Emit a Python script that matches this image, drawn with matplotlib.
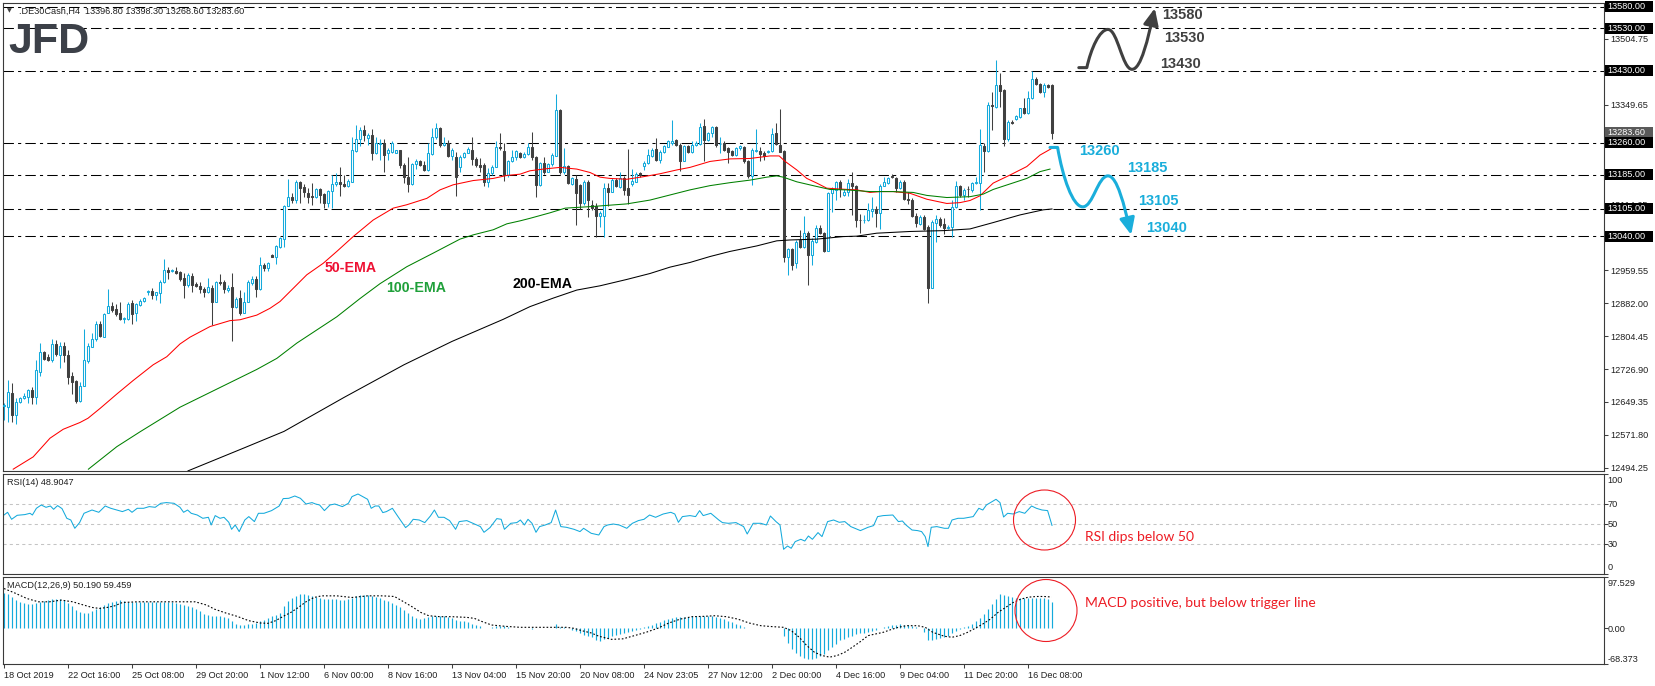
import matplotlib
matplotlib.use("Agg")
import matplotlib.pyplot as plt
import matplotlib.transforms as mtransforms
from matplotlib.patches import Rectangle, Ellipse, FancyArrowPatch
from matplotlib.path import Path

plt.rcParams['font.family'] = ['Liberation Sans', 'DejaVu Sans']

# ---------------- data (H4 bars, DE30) ----------------
opens = [
    12640, 12638, 12670, 12619, 12650, 12658, 12660, 12678, 12662, 12721,
    12766, 12756, 12748, 12785, 12760, 12782, 12760, 12710, 12699, 12652,
    12688, 12746, 12780, 12797, 12832, 12803, 12858, 12876, 12868, 12858,
    12845, 12844, 12883, 12858, 12878, 12888, 12908, 12911, 12902, 12907,
    12933, 12960, 12958, 12958, 12955, 12941, 12925, 12946, 12927, 12923,
    12916, 12909, 12919, 12886, 12933, 12931, 12912, 12920, 12872, 12894,
    12860, 12886, 12930, 12938, 12915, 12972, 12964, 12996, 12992, 13015,
    13033, 13111, 13133, 13125, 13167, 13155, 13141, 13135, 13133, 13150,
    13139, 13119, 13147, 13162, 13168, 13163, 13157, 13168, 13241, 13268,
    13290, 13271, 13278, 13237, 13258, 13260, 13235, 13239, 13237, 13242,
    13208, 13179, 13162, 13210, 13217, 13208, 13197, 13234, 13273, 13294,
    13255, 13259, 13229, 13227, 13202, 13226, 13237, 13243, 13222, 13208,
    13208, 13168, 13188, 13202, 13250, 13241, 13184, 13216, 13226, 13237,
    13226, 13234, 13251, 13226, 13161, 13212, 13192, 13209, 13230, 13337,
    13190, 13205, 13164, 13175, 13161, 13117, 13168, 13114, 13110, 13088,
    13088, 13153, 13145, 13172, 13155, 13176, 13153, 13162, 13168, 13188,
    13205, 13212, 13229, 13245, 13219, 13238, 13251, 13259, 13267, 13255,
    13217, 13252, 13239, 13255, 13258, 13300, 13267, 13284, 13296, 13257,
    13259, 13247, 13241, 13231, 13247, 13249, 13218, 13182, 13241, 13241,
    13237, 13238, 13241, 13282, 13255, 13241, 12992, 13009, 12976, 13031,
    13014, 13047, 12996, 13027, 13060, 13047, 13006, 13141, 13149, 13167,
    13137, 13145, 13165, 13157, 13079, 13078, 13078, 13100, 13103, 13095,
    13158, 13166, 13182, 13176, 13153, 13168, 13127, 13125, 13088, 13069,
    13086, 13062, 12919, 13072, 13080, 13069, 13060, 13062, 13109, 13157,
    13137, 13151, 13149, 13165, 13166, 13252, 13241, 13349, 13345, 13396,
    13384, 13270, 13310, 13315, 13320, 13341, 13329, 13365, 13410, 13399,
    13380, 13396, 13396.8]

highs = [
    12648, 12701, 12693, 12658, 12662, 12670, 12679, 12685, 12748, 12788,
    12770, 12762, 12797, 12795, 12791, 12791, 12772, 12721, 12701, 12697,
    12821, 12789, 12811, 12839, 12839, 12858, 12915, 12885, 12880, 12886,
    12849, 12886, 12890, 12883, 12891, 12896, 12912, 12919, 12909, 12937,
    12986, 12967, 12962, 12968, 12957, 12953, 12953, 12953, 12932, 12933,
    12920, 12941, 12925, 12935, 12951, 12937, 12925, 12953, 12897, 12913,
    12909, 12937, 12945, 12945, 12992, 12976, 12979, 12997, 13019, 13037,
    13114, 13175, 13141, 13172, 13170, 13163, 13153, 13165, 13153, 13154,
    13141, 13149, 13184, 13188, 13204, 13184, 13174, 13274, 13302, 13298,
    13302, 13282, 13292, 13274, 13270, 13270, 13247, 13263, 13244, 13243,
    13212, 13227, 13212, 13221, 13219, 13216, 13259, 13294, 13306, 13298,
    13274, 13267, 13247, 13239, 13231, 13239, 13251, 13274, 13227, 13223,
    13212, 13200, 13208, 13263, 13282, 13259, 13219, 13243, 13243, 13239,
    13239, 13259, 13286, 13229, 13215, 13227, 13213, 13235, 13375, 13339,
    13247, 13208, 13180, 13184, 13164, 13172, 13172, 13124, 13118, 13099,
    13165, 13165, 13176, 13176, 13192, 13182, 13245, 13198, 13190, 13190,
    13216, 13245, 13247, 13271, 13243, 13255, 13267, 13314, 13268, 13259,
    13254, 13255, 13263, 13263, 13306, 13315, 13286, 13300, 13300, 13274,
    13263, 13251, 13244, 13249, 13255, 13252, 13220, 13247, 13292, 13249,
    13241, 13243, 13294, 13306, 13339, 13243, 13011, 13011, 13032, 13055,
    13088, 13051, 13035, 13066, 13066, 13049, 13145, 13155, 13171, 13172,
    13150, 13174, 13192, 13161, 13092, 13090, 13117, 13133, 13110, 13163,
    13179, 13180, 13187, 13179, 13172, 13172, 13145, 13129, 13094, 13090,
    13090, 13066, 13078, 13090, 13084, 13082, 13066, 13125, 13171, 13161,
    13153, 13157, 13168, 13180, 13292, 13259, 13357, 13380, 13455, 13424,
    13386, 13314, 13314, 13326, 13343, 13365, 13381, 13428, 13414, 13400,
    13400, 13398, 13398.3]

lows = [
    12607, 12603, 12601, 12597, 12648, 12657, 12646, 12645, 12644, 12711,
    12748, 12747, 12744, 12758, 12729, 12744, 12692, 12668, 12648, 12650,
    12688, 12742, 12778, 12793, 12803, 12802, 12858, 12862, 12852, 12843,
    12836, 12843, 12832, 12839, 12876, 12886, 12901, 12891, 12890, 12883,
    12929, 12939, 12955, 12950, 12935, 12895, 12921, 12909, 12920, 12905,
    12897, 12905, 12831, 12884, 12925, 12905, 12909, 12792, 12870, 12854,
    12858, 12886, 12925, 12897, 12913, 12959, 12959, 12991, 12974, 13013,
    13015, 13110, 13117, 13117, 13117, 13133, 13117, 13113, 13131, 13117,
    13106, 13108, 13106, 13157, 13135, 13155, 13155, 13168, 13239, 13252,
    13265, 13255, 13220, 13234, 13220, 13192, 13220, 13237, 13235, 13200,
    13165, 13145, 13160, 13198, 13205, 13194, 13194, 13231, 13270, 13251,
    13253, 13227, 13219, 13135, 13192, 13224, 13235, 13208, 13204, 13192,
    13157, 13155, 13184, 13202, 13243, 13170, 13180, 13214, 13220, 13225,
    13223, 13231, 13220, 13133, 13158, 13187, 13190, 13206, 13229, 13187,
    13187, 13164, 13160, 13066, 13103, 13113, 13086, 13102, 13037, 13062,
    13039, 13110, 13143, 13155, 13153, 13137, 13116, 13158, 13167, 13180,
    13197, 13210, 13226, 13218, 13212, 13237, 13249, 13255, 13252, 13194,
    13216, 13237, 13235, 13252, 13255, 13216, 13265, 13274, 13251, 13237,
    13241, 13212, 13229, 13229, 13243, 13212, 13176, 13161, 13239, 13218,
    13220, 13237, 13239, 13255, 13238, 12978, 12948, 12960, 12964, 13011,
    13011, 12925, 12972, 13025, 13045, 13002, 13004, 13098, 13125, 13133,
    13135, 13135, 13090, 13061, 13048, 13070, 13076, 13086, 13061, 13058,
    13157, 13164, 13177, 13145, 13150, 13125, 13116, 13086, 13062, 13066,
    13055, 12882, 12917, 13027, 13062, 13045, 13058, 13037, 13106, 13133,
    13124, 13133, 13145, 13163, 13102, 13190, 13239, 13290, 13341, 13345,
    13252, 13263, 13304, 13314, 13318, 13328, 13328, 13362, 13397, 13378,
    13369, 13388, 13268.6]

closes = [
    12643, 12672, 12619, 12650, 12658, 12663, 12678, 12662, 12725, 12766,
    12751, 12749, 12785, 12762, 12782, 12760, 12709, 12697, 12652, 12688,
    12748, 12781, 12797, 12832, 12805, 12856, 12876, 12866, 12857, 12845,
    12848, 12880, 12857, 12880, 12888, 12894, 12911, 12901, 12908, 12933,
    12960, 12956, 12960, 12953, 12939, 12925, 12949, 12925, 12923, 12915,
    12909, 12920, 12886, 12931, 12929, 12915, 12917, 12872, 12892, 12858,
    12886, 12933, 12938, 12915, 12972, 12964, 12976, 12992, 13017, 13035,
    13111, 13133, 13125, 13167, 13153, 13143, 13133, 13132, 13150, 13137,
    13119, 13147, 13162, 13168, 13162, 13157, 13170, 13243, 13270, 13290,
    13278, 13278, 13237, 13259, 13259, 13231, 13242, 13260, 13242, 13208,
    13179, 13162, 13210, 13217, 13208, 13197, 13235, 13274, 13294, 13255,
    13260, 13229, 13242, 13180, 13227, 13237, 13245, 13222, 13208, 13202,
    13168, 13188, 13204, 13249, 13247, 13184, 13216, 13227, 13241, 13227,
    13234, 13251, 13226, 13161, 13212, 13192, 13209, 13232, 13337, 13190,
    13205, 13166, 13176, 13141, 13117, 13168, 13124, 13106, 13088, 13095,
    13153, 13145, 13172, 13158, 13176, 13149, 13137, 13170, 13186, 13185,
    13213, 13231, 13243, 13219, 13239, 13252, 13263, 13265, 13255, 13217,
    13252, 13239, 13255, 13260, 13296, 13267, 13282, 13296, 13255, 13258,
    13243, 13239, 13231, 13247, 13252, 13218, 13182, 13243, 13243, 13234,
    13230, 13241, 13281, 13257, 13239, 12992, 13009, 12972, 13027, 13014,
    13047, 12996, 13029, 13060, 13047, 13004, 13141, 13150, 13167, 13150,
    13145, 13165, 13157, 13078, 13078, 13079, 13102, 13103, 13095, 13158,
    13168, 13176, 13179, 13153, 13168, 13127, 13124, 13088, 13070, 13086,
    13058, 12919, 13074, 13080, 13066, 13060, 13061, 13108, 13157, 13137,
    13149, 13150, 13166, 13168, 13255, 13241, 13349, 13347, 13396, 13383,
    13270, 13310, 13306, 13322, 13341, 13329, 13365, 13410, 13399, 13379,
    13396, 13392, 13283.6]

# moving averages, sampled along the drawn lines (bar position, price)
ema50_x = [2.3, 7.3, 11.5, 14.8, 19.0, 21.0, 24.0, 28.2, 32.3, 37.3,
           40.7, 44.0, 46.5, 51.5, 56.5, 59.0, 63.2, 66.5, 69.0, 72.3,
           75.7, 79.8, 83.2, 87.3, 92.3, 97.3, 100.7, 105.7, 109.0, 112.3,
           117.3, 122.3, 125.7, 129.0, 131.5, 134.8, 139.0, 143.2, 146.5, 149.0,
           151.5, 155.7, 159.8, 164.0, 168.2, 171.5, 176.5, 181.5, 186.5, 191.5,
           193.8, 195.3, 198.2, 200.7, 203.2, 205.7, 209.0, 213.2, 216.5, 219.0,
           222.3, 226.5, 230.7, 235.7, 239.0, 241.5, 244.0, 247.3, 251.5, 255.7,
           259.0, 262.0]
ema50_y = [12491, 12520, 12564, 12585, 12601, 12611, 12634, 12668, 12700, 12737,
           12756, 12786, 12802, 12827, 12841, 12843, 12854, 12870, 12886, 12917,
           12949, 12976, 13004, 13039, 13078, 13106, 13114, 13129, 13149, 13161,
           13171, 13176, 13183, 13186, 13194, 13198, 13202, 13198, 13190, 13179,
           13176, 13174, 13180, 13187, 13196, 13202, 13216, 13222, 13223, 13229,
           13229, 13216, 13196, 13176, 13165, 13153, 13151, 13149, 13143, 13145,
           13145, 13141, 13127, 13117, 13119, 13124, 13135, 13165, 13184, 13204,
           13231, 13247]

ema100_x = [21.1, 28.2, 34.0, 39.0, 44.0, 63.2, 68.2, 73.2, 78.2, 83.2,
            89.0, 94.0, 100.7, 107.3, 114.0, 117.3, 122.3, 125.7, 129.0, 131.5,
            136.5, 140.3, 147.3, 155.7, 161.5, 166.5, 171.5, 176.5, 181.5, 186.5,
            190.7, 193.2, 194.8, 198.2, 203.2, 206.5, 210.7, 216.5, 222.3, 227.3,
            230.7, 235.7, 241.5, 244.8, 247.3, 251.5, 255.7, 259.0, 261.5]
ema100_y = [12491, 12544, 12579, 12608, 12637, 12726, 12752, 12788, 12819, 12850,
            12893, 12928, 12968, 13000, 13033, 13043, 13055, 13069, 13076, 13082,
            13095, 13106, 13110, 13116, 13125, 13137, 13149, 13159, 13166, 13172,
            13179, 13182, 13179, 13168, 13157, 13150, 13149, 13145, 13145, 13143,
            13136, 13131, 13133, 13139, 13150, 13163, 13176, 13192, 13198]

ema200_x = [46, 60, 70, 85, 100, 112, 124.8, 131.5, 137.3, 143.2,
            149.0, 155.7, 161.5, 166.5, 171.5, 176.5, 181.5, 188.2, 193.2, 196.5,
            203.2, 209.8, 213.2, 218.2, 226.5, 234.8, 241.5, 247.3, 254.0, 259.8,
            262.0]
ema200_y = [12487, 12541, 12580, 12660, 12737, 12792, 12844, 12874, 12894, 12913,
            12923, 12938, 12952, 12967, 12978, 12992, 13004, 13017, 13029, 13031,
            13033, 13039, 13040, 13047, 13051, 13053, 13057, 13072, 13090, 13102,
            13104]

# RSI(14), sampled along the line
rsi_x = [0, 0.9, 1.9, 3.3, 5.2, 6.5, 7.1, 8.1, 9.3, 10.5, 11.6, 12.4, 13.4, 14.5,
         15.7, 16.7, 17.7, 18.9, 20.0, 22.0, 23.7, 25.3, 26.7, 28.2, 29.6, 31.1,
         32.0, 33.3, 34.9, 36.3, 37.8, 39.2, 40.6, 42.5, 44.0, 44.9, 45.9, 46.8,
         48.3, 49.7, 51.1, 51.8, 52.8, 54.0, 55.0, 56.2, 56.9, 57.8, 58.8, 60.2,
         61.2, 62.6, 63.6, 65.0, 66.9, 68.8, 69.8, 71.2, 72.7, 74.1, 75.5, 77.0,
         77.9, 78.9, 80.1, 81.5, 82.7, 84.6, 86.1, 87.0, 88.5, 89.7, 90.9, 91.8,
         92.8, 93.7, 94.7, 95.6, 97.1, 98.5, 100.4, 101.2, 102.3, 103.8, 105.2,
         106.6, 107.6, 108.6, 110.0, 111.4, 112.9, 113.8, 115.7, 117.2, 119.1,
         120.0, 121.5, 123.2, 124.3, 125.1, 126.7, 128.2, 129.1, 130.1, 131.0,
         132.0, 133.0, 133.9, 135.3, 136.8, 137.9, 139.2, 140.6, 142.5, 144.0,
         144.9, 146.8, 148.7,
         150.0, 150.9, 152.3, 153.8, 155.7, 157.1, 158.6, 160.0, 161.4, 162.9,
         164.8, 166.7, 167.7, 168.6, 169.6, 171.5, 172.9, 173.9, 174.8, 176.7,
         178.7, 179.6, 181.1, 183.0, 184.9, 185.8, 187.3, 189.2, 190.6, 191.6,
         193.0, 194.0, 194.9, 195.9, 196.8, 197.8, 199.2, 200.2, 201.1, 202.1,
         203.5, 204.5, 205.9, 207.4, 208.8, 210.2, 211.7, 214.1, 216.0, 217.4,
         218.4, 219.8, 222.2, 223.6, 224.6, 225.5, 227.0, 228.4, 229.4, 230.3,
         231.0, 231.8, 233.2, 235.1, 236.1, 237.0, 238.5, 239.9, 242.3, 243.7,
         244.7, 245.6, 246.6, 248.0, 249.0, 249.9, 250.9, 252.3, 253.8, 255.2,
         256.9, 258.1, 259.5, 260.9, 262.0]
rsi_y = [59.3, 62.0, 55.0, 59.0, 59.7, 61.0, 59.3, 66.0, 69.3, 67.0, 68.3, 65.0, 68.7, 65.7,
         56.0, 54.3, 46.0, 51.7, 61.0, 64.3, 62.0, 68.3, 66.0, 64.3, 62.7, 65.0,
         62.0, 66.0, 66.0, 67.7, 67.0, 71.0, 71.7, 71.0, 67.0, 62.0, 64.3, 61.0,
         59.3, 56.0, 57.0, 49.3, 58.7, 56.0, 57.0, 52.0, 45.0, 49.3, 42.7, 54.3,
         57.7, 52.7, 61.0, 61.0, 63.7, 68.3, 75.7, 76.0, 78.3, 76.0, 70.3, 71.7,
         70.3, 69.3, 63.7, 69.3, 70.3, 67.7, 71.0, 77.7, 80.3, 77.7, 75.0, 66.0,
         68.3, 68.3, 61.7, 62.7, 66.0, 57.7, 46.7, 49.3, 55.0, 54.3, 51.7,
         58.3, 64.3, 57.0, 57.0, 53.7, 45.0, 52.7, 53.7, 51.0, 47.7,
         42.0, 46.7, 55.7, 55.0, 45.0, 51.0, 51.7, 54.3, 49.3, 55.0,
         51.0, 42.0, 47.7, 49.3, 51.7, 64.3, 47.7, 47.0, 45.0, 42.7,
         46.0, 41.0, 39.3,
         47.7, 49.3, 50.3, 49.3, 46.0, 51.0, 53.7, 55.0, 59.3, 57.0,
         60.3, 62.0, 60.3, 52.0, 57.7, 58.7, 57.7, 63.7, 58.7, 61.0,
         54.3, 51.7, 51.0, 51.7, 47.7, 40.3, 51.0, 51.0, 49.3, 58.3,
         52.7, 49.3, 25.0, 28.3, 26.0, 32.7, 35.0, 33.3, 38.3, 35.0,
         41.7, 37.7, 52.7, 54.3, 52.0, 52.7, 47.7, 43.7, 47.0, 48.7,
         57.7, 58.7, 59.3, 52.7, 53.3, 49.3, 44.3, 43.7, 42.7, 37.7,
         27.7, 47.0, 47.7, 46.0, 46.0, 54.3, 56.0, 56.0, 57.7, 66.0,
         64.3, 69.3, 71.7, 75.0, 71.7, 57.3, 61.0, 60.3, 62.7, 61.0,
         68.3, 66.0, 64.3, 63.7, 48.9]

# MACD(12,26,9) main line, one value per bar (drawn as histogram)
macd_main = [
    67, 65, 60, 54, 50, 48, 46, 47, 49, 50,
    52, 54, 55, 55, 55, 54, 48, 43, 35, 31,
    30, 30, 33, 37, 41, 45, 48, 50, 52, 53,
    51, 50, 50, 50, 50, 50, 50, 50, 50, 50,
    50, 50, 50, 49, 47, 45, 43, 40, 37, 33,
    28, 25, 24, 24, 23, 22, 19, 14, 9, 6,
    7, 8, 9, 11, 13, 16, 20, 23, 25, 29,
    42, 52, 57, 62, 65, 65, 64, 61, 59, 57,
    56, 55, 55, 55, 54, 54, 55, 58, 62, 64,
    64, 63, 61, 59, 57, 54, 52, 48, 45, 40,
    34, 29, 23, 19, 18, 19, 21, 24, 23, 23,
    23, 22, 20, 16, 13, 13, 12, 8, 6, 5,
    1, 1, 3, 5, 5, 4, 2, 1, 1, 0.5,
    0.5, 0.5, -0.5, 0.5, 1, 1, 1, 1, 8, 3,
    2, 0, -4, -6, -9, -12, -15, -17, -22, -25,
    -21, -18, -15, -13, -11, -8, -7, -6, -4, -2,
    2, 5, 7, 10, 12, 15, 18, 20, 22, 22,
    22, 22, 23, 23, 24, 24, 24, 24, 22, 20,
    17, 14, 12, 9, 6, 2, 1, 1, 1, 1,
    1, 1, 1, 1, 0.5, -14, -27, -40, -46, -52,
    -57, -59, -58, -56, -53, -48, -42, -36, -29, -23,
    -20, -16, -14, -11, -9, -8, -7, -5, -3, 0.5,
    2, 4, 6, 7, 8, 7, 6, 5, 3, 1,
    -7, -23, -22, -21, -19, -17, -14, -9, -6, -2,
    3, 5, 9, 14, 20, 27, 37, 47, 56, 65,
    63, 61, 59, 58, 58, 58, 58, 58, 58, 58,
    57, 55, 50.19]

# MACD signal line, sampled (bar position, value)
signal_x = [0, 2.8, 5.7, 8.6, 11.4, 14.3, 17.2, 19.1, 22.0, 23.9, 25.8, 27.7, 29.6,
            33.4, 39.2, 44.9, 47.8, 50.7, 52.6, 55.5, 58.3, 61.2, 64.1, 66.0, 67.9,
            69.8, 71.7, 73.6, 75.5, 77.5, 79.4, 83.2, 87.0, 90.9, 94.7, 97.6, 99.5,
            102.3, 104.2, 106.2, 109.0, 111.9, 115.7, 117.6, 119.6, 121.9, 125.3,
            129.1, 136.8, 140.6, 142.5, 144.4, 146.8, 148.7, 151.9, 154.7, 157.6,
            160.5, 163.4, 166.2, 169.1, 172.0, 174.8, 177.7, 180.6, 183.4, 186.3,
            189.2, 192.1, 194.9, 196.8, 198.8, 200.7, 202.6, 204.5, 206.4, 208.3,
            210.2, 212.1, 214.1, 216.0, 217.9, 219.8, 221.7, 223.6, 225.5, 228.4,
            230.3, 232.2, 235.1, 237.0, 238.9, 240.9, 242.8, 244.7, 246.6, 248.5,
            250.4, 252.3, 254.2, 256.1, 258.1, 260.0, 261.9]
signal_y = [75.6, 66.8, 56.7, 50.4, 50.4, 53.6, 50.4, 46.0, 39.7, 37.8, 39.7, 42.8, 49.1,
            50.4, 50.4, 50.4, 50.4, 44.1, 36.5, 29.0, 22.7, 14.5, 10.1, 9.5, 14.5,
            22.7, 30.2, 39.7, 50.4, 58.6, 61.7, 61.7, 58.6, 61.7, 61.7, 60.5, 52.3,
            39.7, 30.2, 23.9, 22.1, 22.1, 20.8, 18.9, 12.6, 6.3, 3.8,
            1.9, 1.9, 1.9, 0.0, -4.4, -8.8, -15.0, -21.0, -20.0, -13.9,
            -7.6, 0.0, 10.1, 17.6, 22.1, 22.7, 23.9, 22.1, 17.6, 10.1,
            5.0, 3.2, 1.9, -4.4, -17.0, -32.8, -45.4, -51.7, -54.8, -51.7,
            -45.4, -35.9, -25.2, -13.9, -10.7, -7.6, -2.5, 1.9, 5.0, 5.0,
            1.9, -7.6, -15.1, -17.0, -13.9, -7.6, 0.0, 8.2, 17.6, 30.2,
            39.7, 49.1, 55.4, 59.2, 60.5, 60.5, 59.5]

# horizontal support / resistance levels and projected scenario paths
resistance_levels = [13580, 13530, 13430]
support_levels = [13260, 13185, 13105, 13040]
last_price = 13283.60
bull_x = [268.7, 270.7, 276.0, 282.0, 287.7]
bull_y = [13437, 13437, 13527, 13433, 13577]
bear_x = [261.5, 263.4, 269.7, 276.0, 281.8]
bear_y = [13249, 13249, 13109, 13182, 13043]

price_ticks = [12494.25, 12571.80, 12649.35, 12726.90, 12804.45, 12882.00, 12959.55,
               13037.10, 13114.65, 13192.20, 13272.10, 13349.65, 13427.20, 13504.75,
               13582.30]
time_labels = ['18 Oct 2019', '22 Oct 16:00', '25 Oct 08:00', '29 Oct 20:00',
               '1 Nov 12:00', '6 Nov 00:00', '8 Nov 16:00', '13 Nov 04:00',
               '15 Nov 20:00', '20 Nov 08:00', '24 Nov 23:05', '27 Nov 12:00',
               '2 Dec 00:00', '4 Dec 16:00', '9 Dec 04:00', '11 Dec 20:00',
               '16 Dec 08:00']
label_step = 16

# ---------------- styling ----------------
W, H = 1655, 686
BLUE = '#14AADC'
DARK = '#404040'
FRAME = '#3A3A3A'
TXT = '#202020'
RED = '#ED1C24'
CYAN = '#1AAEDB'

fig = plt.figure(figsize=(W / 100, H / 100), dpi=100)


def fx(px):
    return px / W


def fy(py):
    return 1 - py / H


def panel(x0, y0, x1, y1):
    return fig.add_axes([fx(x0), fy(y1), (x1 - x0) / W, (y1 - y0) / H])


ax = panel(3, 2.7, 1604, 471)
ax_rsi = panel(3, 474.3, 1604, 574.3)
ax_macd = panel(3, 577, 1604, 664.3)

for a in (ax, ax_rsi, ax_macd):
    a.set_xlim(-0.25, 400)
    for s in a.spines.values():
        s.set_color(FRAME)
        s.set_linewidth(0.8)
    a.yaxis.tick_right()
    a.tick_params(axis='both', direction='out', length=3, width=0.75,
                  colors=DARK, labelsize=6.6, labelcolor=TXT, pad=1.5)

ymin, ymax = 12486.7, 13590
ax.set_ylim(ymin, ymax)
ax.set_xticks([])
ax.set_yticks(price_ticks)
ax.set_yticklabels([f'{t:.2f}' for t in price_ticks])

# candles
xs = list(range(len(closes)))
is_up = [c >= o for o, c in zip(opens, closes)]
edge = [BLUE if u else DARK for u in is_up]
face = ['white' if u else DARK for u in is_up]
ax.vlines(xs, lows, highs, colors=edge, lw=0.75, zorder=2)
ax.bar(xs, [abs(c - o) for o, c in zip(opens, closes)],
       bottom=[min(o, c) for o, c in zip(opens, closes)],
       width=0.5, color=face, edgecolor=edge, linewidth=0.75, zorder=3)

ax.plot(ema50_x, ema50_y, color='#FF0000', lw=0.75, zorder=4)
ax.plot(ema100_x, ema100_y, color='#008000', lw=0.75, zorder=4)
ax.plot(ema200_x, ema200_y, color='black', lw=0.75, zorder=4)

for lv in resistance_levels + support_levels:
    ax.axhline(lv, color='black', lw=0.75, dashes=(10, 4, 3, 4), zorder=1)

# price boxes on the right axis
trans = mtransforms.blended_transform_factory(fig.transFigure, ax.transData)
unit_per_px = (ymax - ymin) / (471 - 2.7)


def price_box(value, fc):
    h = 11 * unit_per_px
    ax.add_patch(Rectangle((fx(1605), value - h / 2), 48 / W, h, transform=trans,
                           fc=fc, ec='none', clip_on=False, zorder=5))
    ax.text(fx(1607.5), value, f'{value:.2f}', transform=trans, color='white',
            fontsize=6.6, va='center', ha='left', clip_on=False, zorder=6)


price_box(last_price, '#5A5A5A')
for lv in resistance_levels + support_levels:
    price_box(lv, 'black')

# scenario arrows


def wave_path(xp, yp):
    verts = [(xp[0], yp[0]), (xp[1], yp[1])]
    codes = [Path.MOVETO, Path.LINETO]
    last = len(xp) - 2
    for k in range(1, len(xp) - 1):
        x0, y0, x1, y1 = xp[k], yp[k], xp[k + 1], yp[k + 1]
        dx, dy = x1 - x0, y1 - y0
        c1 = (x0 + 0.2 * dx, y0 + 0.5 * dy) if k == 1 else (x0 + 0.4 * dx, y0)
        c2 = (x1 - 0.3 * dx, y1 - 0.5 * dy) if k == last else (x1 - 0.4 * dx, y1)
        verts += [c1, c2, (x1, y1)]
        codes += [Path.CURVE4] * 3
    return Path(verts, codes)


for px_, py_, col in ((bull_x, bull_y, DARK), (bear_x, bear_y, CYAN)):
    arr = FancyArrowPatch(path=wave_path(px_, py_),
                          arrowstyle='-|>,head_length=1.0,head_width=0.45',
                          mutation_scale=10, color=col, lw=2.2, zorder=6)
    ax.add_patch(arr)

# level labels next to the scenario paths
bold = dict(fontsize=10.5, fontweight='bold', va='center', ha='left')
for txt, x, y in (('13580', 1162, 15), ('13530', 1164.5, 38.3), ('13430', 1160.5, 64)):
    fig.text(fx(x), fy(y), txt, color=DARK, **bold)
for txt, x, y in (('13260', 1079.5, 151), ('13185', 1127, 167.7),
                  ('13105', 1138.5, 201), ('13040', 1146.5, 228.3)):
    fig.text(fx(x), fy(y), txt, color=CYAN, **bold)

ema_font = dict(fontsize=10.2, fontweight='bold', va='center', ha='left')
fig.text(fx(325), fy(267.5), '50-EMA', color='#EE1133', **ema_font)
fig.text(fx(386.5), fy(288), '100-EMA', color='#1FA03A', **ema_font)
fig.text(fx(512.5), fy(284), '200-EMA', color='black', **ema_font)

# header and logo
fig.text(fx(6.5), fy(11), '\u25bc', fontsize=4.5, color=DARK, va='center',
         family=['DejaVu Sans'])
fig.text(fx(19), fy(11.3), '.DE30Cash,H4  13396.80 13398.30 13268.60 13283.60',
         fontsize=6.6, color=TXT, va='center')
fig.text(fx(8), fy(53.3), 'JFD', fontsize=31, fontweight='bold', color='#3C4048',
         va='baseline')

# ---------------- RSI panel ----------------
ax_rsi.set_ylim(0, 100)
ax_rsi.set_xticks([])
for lv in (70, 50, 30):
    ax_rsi.axhline(lv, color='#C4C4C4', lw=0.75, dashes=(3, 3))
ax_rsi.plot(rsi_x, rsi_y, color=BLUE, lw=0.75)
ax_rsi.set_yticks([0, 30, 50, 70, 100])
ax_rsi.tick_params(axis='y', labelright=False)
for txt, y in (('100', 480.3), ('70', 504.3), ('50', 524.3), ('30', 544.3), ('0', 567.3)):
    fig.text(fx(1607.5), fy(y), txt, fontsize=6.6, color=TXT, va='center')
fig.text(fx(7), fy(482.7), 'RSI(14) 48.9047', fontsize=6.6, color=TXT, va='center')

# ---------------- MACD panel ----------------
macd_top, macd_bot = 97.529, -68.373
ax_macd.set_ylim(macd_bot, macd_top)
ax_macd.vlines(xs, 0, macd_main, colors=BLUE, lw=0.85)
ax_macd.plot(signal_x, signal_y, color='black', lw=0.8, dashes=(1.5, 1.8))
ax_macd.set_yticks([macd_bot, 0, macd_top])
ax_macd.tick_params(axis='y', labelright=False)
for txt, y in (('97.529', 583.3), ('0.00', 629.3), ('-68.373', 659)):
    fig.text(fx(1607.5), fy(y), txt, fontsize=6.6, color=TXT, va='center')
fig.text(fx(7), fy(586), 'MACD(12,26,9) 50.190 59.459', fontsize=6.6, color=TXT,
         va='center')

ax_macd.set_xticks(range(0, label_step * len(time_labels), label_step))
ax_macd.set_xticklabels(time_labels)
for lab in ax_macd.get_xticklabels():
    lab.set_ha('left')

# annotations: circles and notes
lato = ['Lato', 'DejaVu Sans']
fig.add_artist(Ellipse((fx(1044.5), fy(520)), 62 / W, 60 / H, transform=fig.transFigure,
                       fill=False, ec=RED, lw=0.8))
fig.add_artist(Ellipse((fx(1046), fy(610.5)), 62 / W, 62 / H, transform=fig.transFigure,
                       fill=False, ec=RED, lw=0.8))
fig.text(fx(1085), fy(537.3), 'RSI dips below 50', color=RED, fontsize=10,
         family=lato, va='center')
fig.text(fx(1085), fy(603.3), 'MACD positive, but below trigger line', color=RED,
         fontsize=10, family=lato, va='center')

fig.savefig('out.png', dpi=100)
